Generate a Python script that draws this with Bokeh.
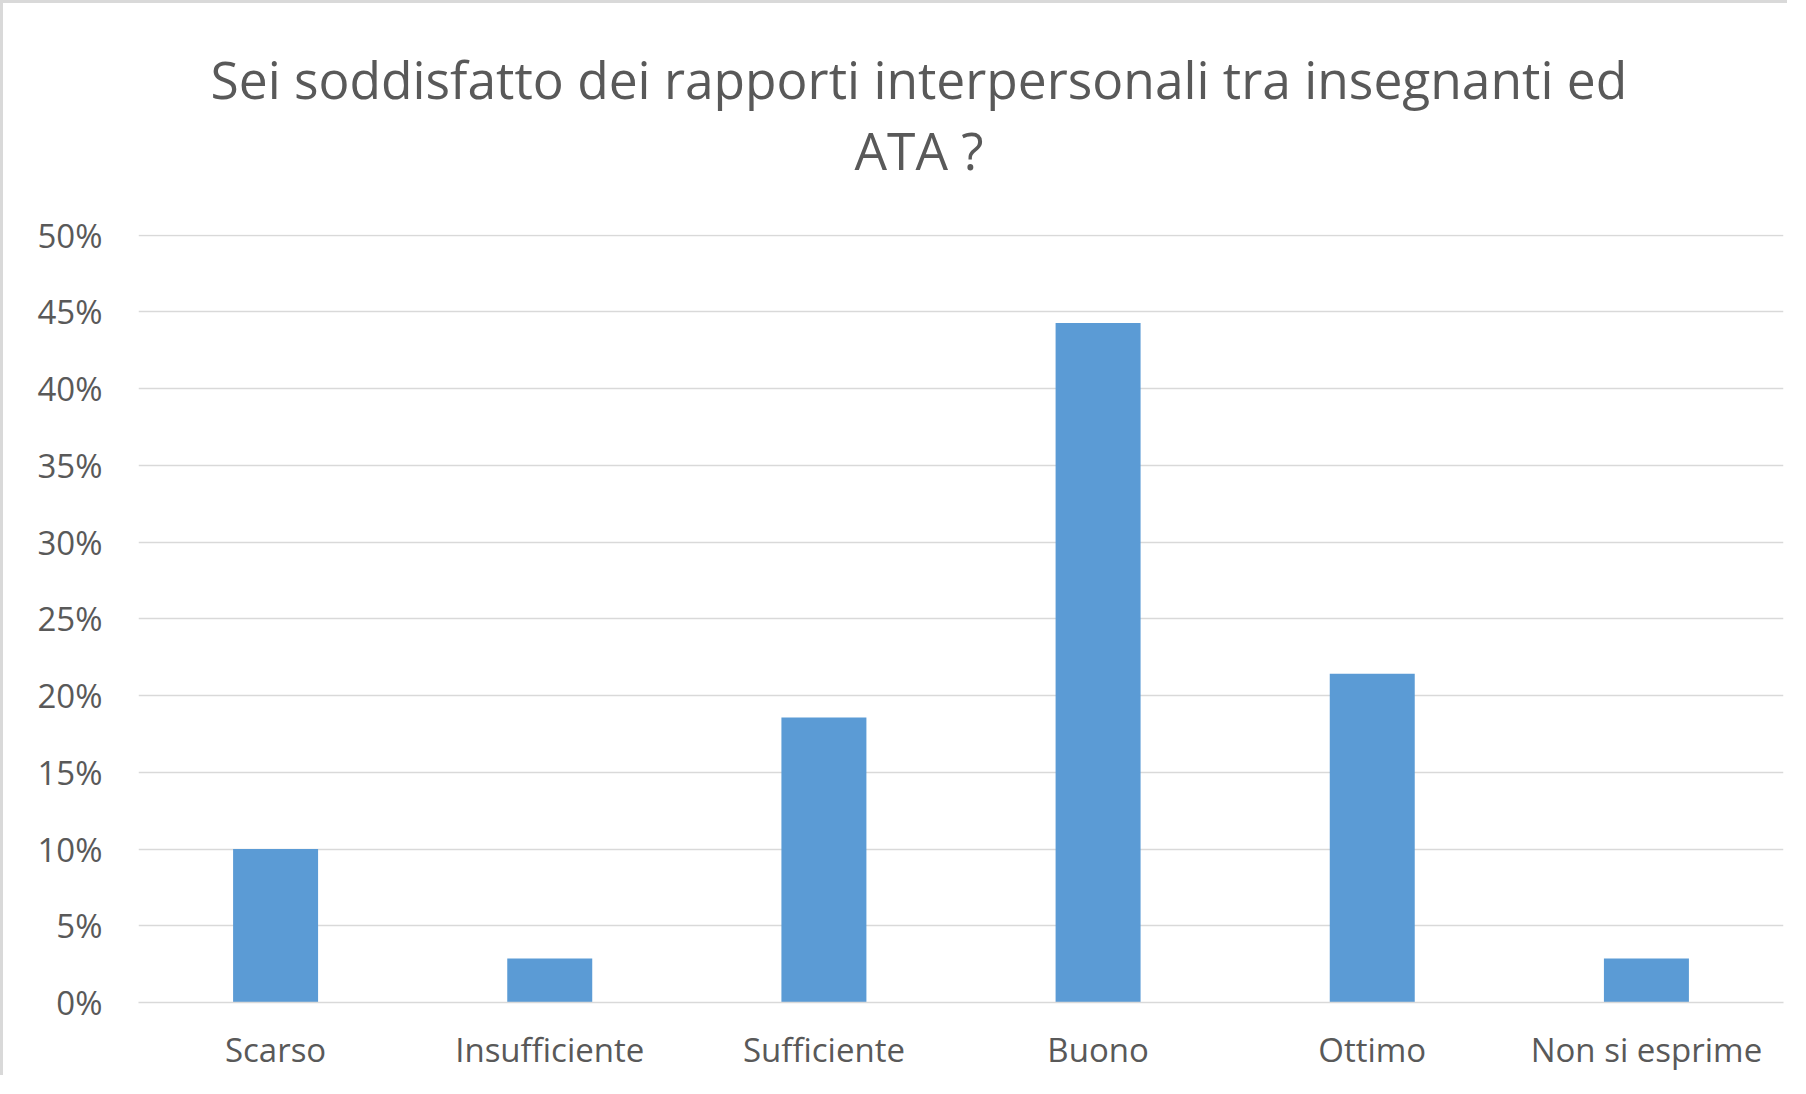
from bokeh.plotting import figure
from bokeh.models import FactorRange, Range1d, NumeralTickFormatter, Title, FixedTicker, ColumnDataSource
from bokeh.embed import file_html
from bokeh.resources import INLINE

categories = ["Scarso", "Insufficiente", "Sufficiente", "Buono", "Ottimo", "Non si esprime"]
values = [0.10, 0.0286, 0.1857, 0.4429, 0.2143, 0.0286]
y_ticks = [0, 0.05, 0.10, 0.15, 0.20, 0.25, 0.30, 0.35, 0.40, 0.45, 0.50]
title_line1 = "Sei soddisfatto dei rapporti interpersonali tra insegnanti ed"
title_line2 = "ATA ?"

FONT = "Open Sans"
GREY = "#595959"

p = figure(
    x_range=FactorRange(*categories, range_padding=0),
    y_range=Range1d(0, 0.5005),
    width=1787, height=1075,
    output_backend="svg", toolbar_location=None,
    min_border_left=135, min_border_right=7,
    min_border_top=231, min_border_bottom=76,
)
p.styles = {"border-top": "3px solid #d9d9d9", "border-left": "3px solid #d9d9d9"}

# outer (top) line
p.title = Title(text=title_line1, align="left", offset=72, standoff=-95,
                vertical_align="bottom",
                text_font=FONT, text_font_size="51.5px", text_color=GREY,
                text_font_style="normal")
# inner line, closest to the plot
p.add_layout(Title(text=title_line2, align="left", offset=716, standoff=96,
                   vertical_align="top",
                   text_font=FONT, text_font_size="51.5px", text_color=GREY,
                   text_font_style="normal"), "above")

src = ColumnDataSource(dict(x=categories, top=values))
p.vbar(x="x", top="top", width=0.31, source=src, fill_color="#5B9BD5", line_color=None)

p.outline_line_color = None
p.background_fill_color = "white"
p.border_fill_color = "white"

p.xgrid.grid_line_color = None
p.ygrid.grid_line_color = "#d9d9d9"
p.ygrid.grid_line_width = 1.5
p.ygrid.ticker = FixedTicker(ticks=y_ticks)

p.yaxis.ticker = FixedTicker(ticks=y_ticks)
p.yaxis.formatter = NumeralTickFormatter(format="0%")
p.yaxis.axis_line_color = None
p.yaxis.major_tick_line_color = None
p.yaxis.minor_tick_line_color = None
p.yaxis.major_tick_out = 0
p.yaxis.major_label_standoff = 36
p.yaxis.major_label_text_font = FONT
p.yaxis.major_label_text_font_size = "33px"
p.yaxis.major_label_text_color = GREY

p.xaxis.axis_line_color = "#d9d9d9"
p.xaxis.axis_line_width = 1.5
p.xaxis.major_tick_line_color = None
p.xaxis.minor_tick_line_color = None
p.xaxis.major_tick_out = 0
p.xaxis.major_label_standoff = 24
p.xaxis.major_label_text_font = FONT
p.xaxis.major_label_text_font_size = "33px"
p.xaxis.major_label_text_color = GREY

open("out.html", "w").write(file_html(p, INLINE))
